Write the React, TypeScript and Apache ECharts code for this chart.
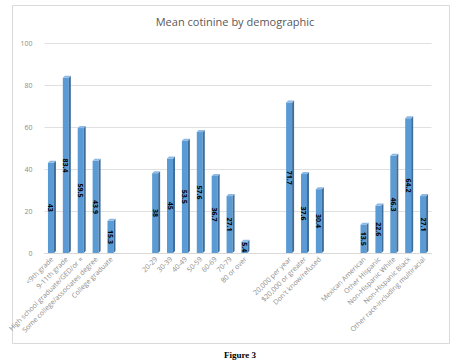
import React, { useEffect, useRef } from "react";
import * as echarts from "echarts";

const educationCats = ["<9th grade", "9-11th grade", "High school graduate/GED/or =", "Some college/associates degree", "College graduate"];
const educationVals = [43, 83.4, 59.5, 43.9, 15.3];
const ageCats = ["20-29", "30-39", "40-49", "50-59", "60-69", "70-79", "80 or over"];
const ageVals = [38, 45, 53.5, 57.6, 36.7, 27.1, 5.4];
const incomeCats = ["20,000 per year", "$20,000 or greater", "Don't know/refused"];
const incomeVals = [71.7, 37.6, 30.4];
const raceCats = ["Mexican American", "Other Hispanic", "Non-Hispanic White", "Non-Hispanic Black", "Other race-including multiracial"];
const raceVals = [13.5, 22.6, 46.3, 64.2, 27.1];
const yTicks = [0, 20, 40, 60, 80, 100];

const groups: [string[], number[]][] = [
  [educationCats, educationVals],
  [ageCats, ageVals],
  [incomeCats, incomeVals],
  [raceCats, raceVals],
];

const categories: string[] = [];
const data: [number, number][] = [];
groups.forEach(([cats, vals], gi) => {
  if (gi > 0) {
    categories.push(" ".repeat(gi * 2 - 1));
    categories.push(" ".repeat(gi * 2));
  }
  cats.forEach((c, i) => {
    data.push([categories.length, vals[i]]);
    categories.push(c);
  });
});

export default function App() {
  const ref = useRef<HTMLDivElement>(null);
  useEffect(() => {
    const chart = echarts.init(ref.current!, null, { renderer: "svg" });
    chart.setOption({
      animation: false,
      backgroundColor: "#ffffff",
      title: {
        text: "Mean cotinine by demographic",
        left: 230,
        textAlign: "center",
        top: 11,
        textStyle: { fontFamily: "Open Sans", fontSize: 11, fontWeight: "normal", color: "#595959" },
      },
      graphic: [
        { type: "rect", shape: { x: 12.5, y: 5.5, width: 437, height: 338 }, style: { fill: "none", stroke: "#d9d9d9", lineWidth: 1 }, z: -1 },
        { type: "text", x: 240, y: 355, style: { text: "Figure 3", fontFamily: "Liberation Serif", fontSize: 9, fontWeight: "bold", fill: "#000", align: "center", verticalAlign: "middle" } },
      ],
      grid: { left: 44.5, right: 31.5, top: 43, bottom: 111, containLabel: false },
      xAxis: {
        type: "category",
        data: categories,
        axisLine: { lineStyle: { color: "#d9d9d9" } },
        axisTick: { show: false },
        axisLabel: { rotate: 45, interval: 0, fontSize: 7, color: "#8c8c8c", fontFamily: "Open Sans", margin: 5 },
        splitLine: { show: false },
      },
      yAxis: {
        type: "value",
        min: yTicks[0],
        max: yTicks[yTicks.length - 1],
        interval: 20,
        axisLine: { show: false },
        axisTick: { show: false },
        axisLabel: { fontSize: 7, color: "#8c8c8c", fontFamily: "Open Sans", margin: 12 },
        splitLine: { lineStyle: { color: "#e0e0e0" } },
      },
      series: [
        {
          type: "custom",
          data: data,
          encode: { x: 0, y: 1 },
          renderItem: (params: any, api: any) => {
            const i = api.value(0);
            const v = api.value(1);
            const top = api.coord([i, v]);
            const base = api.coord([i, 0]);
            const w = 6;
            const d = 2;
            const x0 = top[0] - 4;
            return {
              type: "group",
              children: [
                { type: "rect", shape: { x: x0, y: top[1], width: w, height: base[1] - top[1] }, style: { fill: "#5B9BD5" } },
                { type: "polygon", shape: { points: [[x0 + w, top[1]], [x0 + w + d, top[1] - d], [x0 + w + d, base[1] - d], [x0 + w, base[1]]] }, style: { fill: "#3F6E9A" } },
                { type: "polygon", shape: { points: [[x0, top[1]], [x0 + d, top[1] - d], [x0 + w + d, top[1] - d], [x0 + w, top[1]]] }, style: { fill: "#8DB9E6" } },
                {
                  type: "text",
                  x: x0 + w / 2,
                  y: (top[1] + base[1]) / 2,
                  rotation: -Math.PI / 2,
                  style: { text: String(v), fontSize: 7, fontWeight: "bold", fill: "#000", fontFamily: "Open Sans", align: "center", verticalAlign: "middle" },
                },
              ],
            };
          },
        },
      ],
    });
    return () => chart.dispose();
  }, []);
  return <div ref={ref} style={{ position: "fixed", left: 0, top: 0, width: 463, height: 364 }} />;
}
